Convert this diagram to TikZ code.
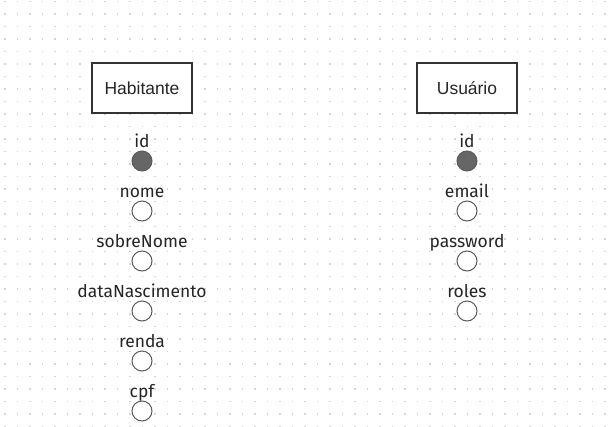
\documentclass[tikz,border=0pt]{standalone}
\usepackage{fontspec}
\setmainfont{Liberation Sans}
\newfontfamily\firafont{Fira Sans}
\definecolor{griddot}{HTML}{D4D4D4}
\definecolor{boxline}{HTML}{333333}
\definecolor{circline}{HTML}{5A5A5A}
\definecolor{circfill}{HTML}{666666}
\tikzset{
  entbox/.style={draw=boxline, line width=1.1pt, fill=white, minimum width=75pt, minimum height=37.5pt, inner sep=0pt, font=\fontsize{13.1}{15}\selectfont, text=black!85},
  attr/.style={circle, draw=circline, line width=0.75pt, fill=white, minimum size=15pt, inner sep=0pt},
  keyattr/.style={attr, fill=circfill},
  lbl/.style={anchor=base, inner sep=0pt, font=\firafont\fontsize{13.1}{15}\selectfont, text=black!85}
}
\begin{document}
\begin{tikzpicture}[x=0.75pt, y=-0.75pt]
\useasboundingbox (0,0) rectangle (608,426);
\fill[white] (0,0) rectangle (608,426);
\foreach \i in {0,...,48} {
  \foreach \j in {0,...,34} {
    \fill[griddot] ({5+12.5*\i-0.75},{1.7+12.5*\j-0.75}) rectangle ++(1.5,1.5);
  }
}
\node[entbox] (hab) at (142,88) {Habitante};
\node[entbox] (usr) at (467,88) {Usuário};
% Habitante attributes
\node[keyattr] (h1) at (142,161) {};
\node[attr] (h2) at (142,211) {};
\node[attr] (h3) at (142,261) {};
\node[attr] (h4) at (142,311) {};
\node[attr] (h5) at (142,361) {};
\node[attr] (h6) at (142,411) {};
\node[lbl] (lh1) at (142,147) {id};
\node[lbl] (lh2) at (142,197) {nome};
\node[lbl] (lh3) at (142,247) {sobreNome};
\node[lbl] (lh4) at (142,297) {dataNascimento};
\node[lbl] (lh5) at (142,347) {renda};
\node[lbl] (lh6) at (142,397) {cpf};
% Usuario attributes
\node[keyattr] (u1) at (467,161) {};
\node[attr] (u2) at (467,211) {};
\node[attr] (u3) at (467,261) {};
\node[attr] (u4) at (467,311) {};
\node[lbl] (lu1) at (467,147) {id};
\node[lbl] (lu2) at (467,197) {email};
\node[lbl] (lu3) at (467,247) {password};
\node[lbl] (lu4) at (467,297) {roles};
\end{tikzpicture}
\end{document}
